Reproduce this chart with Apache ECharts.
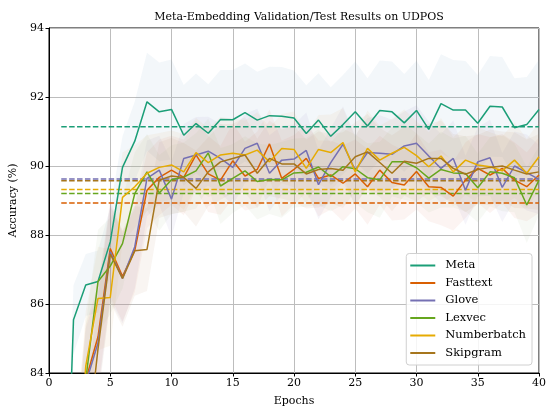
<!DOCTYPE html>
<html>
<head>
<meta charset="utf-8">
<script src="https://cdn.jsdelivr.net/npm/echarts@6/dist/echarts.min.js"></script>
<style>
  html, body { margin: 0; padding: 0; background: #fff; }
  #main { width: 546px; height: 408px; }
</style>
</head>
<body>
<div id="main"></div>
<script>
// epochs 1..40
var epochs = [1,2,3,4,5,6,7,8,9,10,11,12,13,14,15,16,17,18,19,20,21,22,23,24,25,26,27,28,29,30,31,32,33,34,35,36,37,38,39,40];

// validation accuracy (mean over runs)
var meta = [75.3,85.54,86.55,86.65,87.8,89.96,90.72,91.86,91.57,91.64,90.89,91.23,90.95,91.35,91.34,91.55,91.33,91.46,91.44,91.39,90.94,91.33,90.86,91.2,91.57,91.16,91.61,91.57,91.25,91.61,91.06,91.81,91.62,91.62,91.24,91.73,91.71,91.11,91.2,91.64];
var fasttext = [70,80,83.8,85.05,87.61,86.8,87.55,89.3,89.67,89.88,89.67,90.32,89.77,89.59,90.15,89.71,89.9,90.64,89.64,89.9,90.22,89.64,89.74,89.5,89.77,89.4,89.88,89.52,89.45,89.84,89.4,89.38,89.13,89.59,89.93,89.74,89.93,89.59,89.4,89.74];
var glove = [70,79,83.7,84.87,87.51,86.74,87.66,89.64,89.88,89.04,90.22,90.32,90.43,90.22,89.96,90.51,90.66,89.79,90.17,90.2,90.45,89.46,90.1,90.63,89.88,90.39,90.37,90.34,90.58,90.66,90.29,89.93,90.22,89.3,90.12,90.24,89.38,90.0,89.81,89.61];
var lexvec = [70,79,83.8,86.65,87.1,87.75,89.2,89.83,89.22,89.6,89.68,89.86,90.38,89.42,89.64,89.86,89.55,89.61,89.6,89.8,89.82,89.97,89.69,89.98,89.92,89.66,89.6,90.12,90.12,89.95,89.65,89.9,89.8,89.78,89.37,89.83,89.79,89.66,88.87,89.59];
var numberbatch = [70,79,84.2,86.16,86.19,89.09,89.4,89.79,89.96,90.03,89.83,90.39,90.1,90.32,90.37,90.32,90.46,90.12,90.51,90.48,89.93,90.48,90.39,90.68,89.83,90.51,90.17,90.37,90.54,90.3,89.98,90.29,89.83,90.17,90.03,89.98,89.86,90.17,89.79,90.27];
var skipgram = [70,76,81.5,84.7,87.45,86.74,87.54,87.58,89.59,89.71,89.67,89.35,89.83,90.12,90.22,90.32,89.79,90.22,90.06,90.06,89.77,89.9,89.93,89.88,90.27,90.41,90.1,89.79,90.14,90.08,90.22,90.22,89.93,89.76,89.9,89.96,90.0,89.88,89.77,89.83];

// spread over runs (shaded band = mean +/- std)
var metaStd = [1.5,1.0,0.9,0.9,1.0,0.9,1.15,1.42,1.43,1.45,1.46,1.45,1.42,1.43,1.44,1.42,1.4,1.42,1.43,1.38,1.4,1.36,1.42,1.44,1.46,1.38,1.45,1.46,1.42,1.44,1.43,1.43,1.45,1.42,1.4,1.46,1.45,1.43,1.38,1.44];
var fasttextStd = [2.0,2.0,1.6,1.5,1.4,1.3,1.2,1.1,1.1,1.0,1.1,1.0,1.1,1.0,1.1,1.0,1.1,1.0,1.1,1.0,1.0,1.1,1.0,1.1,1.0,1.1,1.0,1.1,1.0,1.1,1.0,1.1,1.0,1.1,1.0,1.1,1.0,1.1,1.0,1.1];
var gloveStd = [2.0,2.0,1.6,1.5,1.4,1.3,1.2,1.1,1.0,1.1,1.0,1.1,1.0,1.0,1.1,1.0,1.0,1.1,1.0,1.0,1.1,1.0,1.0,1.1,1.0,1.0,1.1,1.0,1.0,1.1,1.0,1.0,1.1,1.0,1.0,1.1,1.0,1.0,1.1,1.0];
var lexvecStd = [2.0,2.0,1.6,1.5,1.4,1.3,1.2,1.1,1.1,1.0,1.0,1.1,1.0,1.1,1.0,1.0,1.1,1.0,1.1,1.0,1.0,1.1,1.0,1.1,1.0,1.0,1.1,1.0,1.1,1.0,1.0,1.1,1.0,1.1,1.0,1.0,1.1,1.0,1.1,1.0];
var numberbatchStd = [2.0,2.0,1.6,1.5,1.4,1.3,1.2,1.1,1.0,1.0,1.1,1.0,1.0,1.1,1.0,1.0,1.1,1.0,1.0,1.1,1.0,1.0,1.1,1.0,1.0,1.1,1.0,1.0,1.1,1.0,1.0,1.1,1.0,1.0,1.1,1.0,1.0,1.1,1.0,1.0];
var skipgramStd = [2.0,2.0,1.6,1.5,1.4,1.4,1.3,1.2,1.1,1.1,1.0,1.1,1.0,1.1,1.0,1.1,1.0,1.1,1.0,1.1,1.0,1.1,1.0,1.1,1.0,1.1,1.0,1.1,1.0,1.1,1.0,1.1,1.0,1.1,1.0,1.1,1.0,1.1,1.0,1.1];

// test accuracy (dashed lines)
var testAcc = [91.14, 88.93, 89.62, 89.2, 89.32, 89.57];

var names = ['Meta', 'Fasttext', 'Glove', 'Lexvec', 'Numberbatch', 'Skipgram'];
var colors = ['#1b9e77', '#d95f02', '#7570b3', '#66a61e', '#e6ab02', '#a6761d'];
var bandColors = ['#6f9fc8', '#d9826a', '#9a8fc0', '#9fb98a', '#d9b36a', '#b58f6a'];
var means = [meta, fasttext, glove, lexvec, numberbatch, skipgram];
var stds = [metaStd, fasttextStd, gloveStd, lexvecStd, numberbatchStd, skipgramStd];

var font = 'DejaVu Serif';

function pairs(ys) {
  return epochs.map(function (e, i) { return [e, ys[i]]; });
}

// polygon mean+std forward, mean-std backward, positioned by the axes
function bandRenderer(idx) {
  return function (params, api) {
    var m = means[idx], s = stds[idx];
    var pts = [];
    for (var k = 0; k < epochs.length; k++) pts.push(api.coord([epochs[k], m[k] + s[k]]));
    for (var k = epochs.length - 1; k >= 0; k--) pts.push(api.coord([epochs[k], m[k] - s[k]]));
    return {
      type: 'polygon',
      shape: { points: pts },
      style: { fill: bandColors[idx], opacity: 0.085 }
    };
  };
}

var series = [];
for (var i = 0; i < names.length; i++) {
  series.push({
    name: 'band' + i, type: 'custom', silent: true, clip: true, z: 1,
    renderItem: bandRenderer(i),
    data: [[epochs[0], means[i][epochs.length - 1]]]
  });
}
for (var i = 0; i < names.length; i++) {
  series.push({
    name: names[i], type: 'line', symbol: 'none', z: 3,
    lineStyle: { color: colors[i], width: 1.5 },
    itemStyle: { color: colors[i] },
    data: pairs(means[i])
  });
  series.push({
    name: 'test' + i, type: 'line', symbol: 'none', silent: true, z: 2,
    lineStyle: { color: colors[i], width: 1.5, type: [5.5, 2.4] },
    data: [[epochs[0], testAcc[i]], [epochs[epochs.length - 1], testAcc[i]]]
  });
}

var option = {
  animation: false,
  backgroundColor: '#fff',
  title: {
    text: 'Meta-Embedding Validation/Test Results on UDPOS',
    left: 294, top: 7, textAlign: 'center',
    textStyle: { fontFamily: font, fontSize: 11, fontWeight: 'normal', color: '#000' }
  },
  legend: {
    data: names,
    orient: 'vertical',
    right: 14, bottom: 43,
    icon: 'rect',
    itemWidth: 25, itemHeight: 2, itemGap: 3.5,
    padding: [5, 6, 5, 4],
    backgroundColor: 'rgba(255,255,255,0.85)',
    borderColor: '#d0d0d0', borderWidth: 1, borderRadius: 3,
    textStyle: { fontFamily: font, fontSize: 11.5, color: '#000', lineHeight: 14, height: 14, padding: [0, 0, 0, 5] }
  },
  grid: {
    left: 49, right: 7, top: 28, bottom: 35,
    outerBoundsMode: 'none',
    show: true, borderColor: '#000', borderWidth: 1
  },
  xAxis: {
    type: 'value', min: 0, max: 40, interval: 5,
    name: 'Epochs', nameLocation: 'middle', nameGap: 23,
    nameTextStyle: { fontFamily: font, fontSize: 11, color: '#000' },
    axisLine: { show: true, lineStyle: { color: '#000', width: 1 } },
    axisTick: { show: true, length: 3.5, lineStyle: { color: '#000' } },
    axisLabel: { fontFamily: font, fontSize: 11, color: '#000', margin: 5 },
    splitLine: { show: true, lineStyle: { color: '#bdbdbd', width: 1 } }
  },
  yAxis: {
    type: 'value', min: 84, max: 94, interval: 2,
    name: 'Accuracy (%)', nameLocation: 'middle', nameGap: 30, nameRotate: 90,
    nameTextStyle: { fontFamily: font, fontSize: 11, color: '#000' },
    axisLine: { show: true, lineStyle: { color: '#000', width: 1 } },
    axisTick: { show: true, length: 3.5, lineStyle: { color: '#000' } },
    axisLabel: { fontFamily: font, fontSize: 11, color: '#000', margin: 5 },
    splitLine: { show: true, lineStyle: { color: '#bdbdbd', width: 1 } }
  },
  series: series
};

var chart = echarts.init(document.getElementById('main'));
chart.setOption(option);
</script>
</body>
</html>
